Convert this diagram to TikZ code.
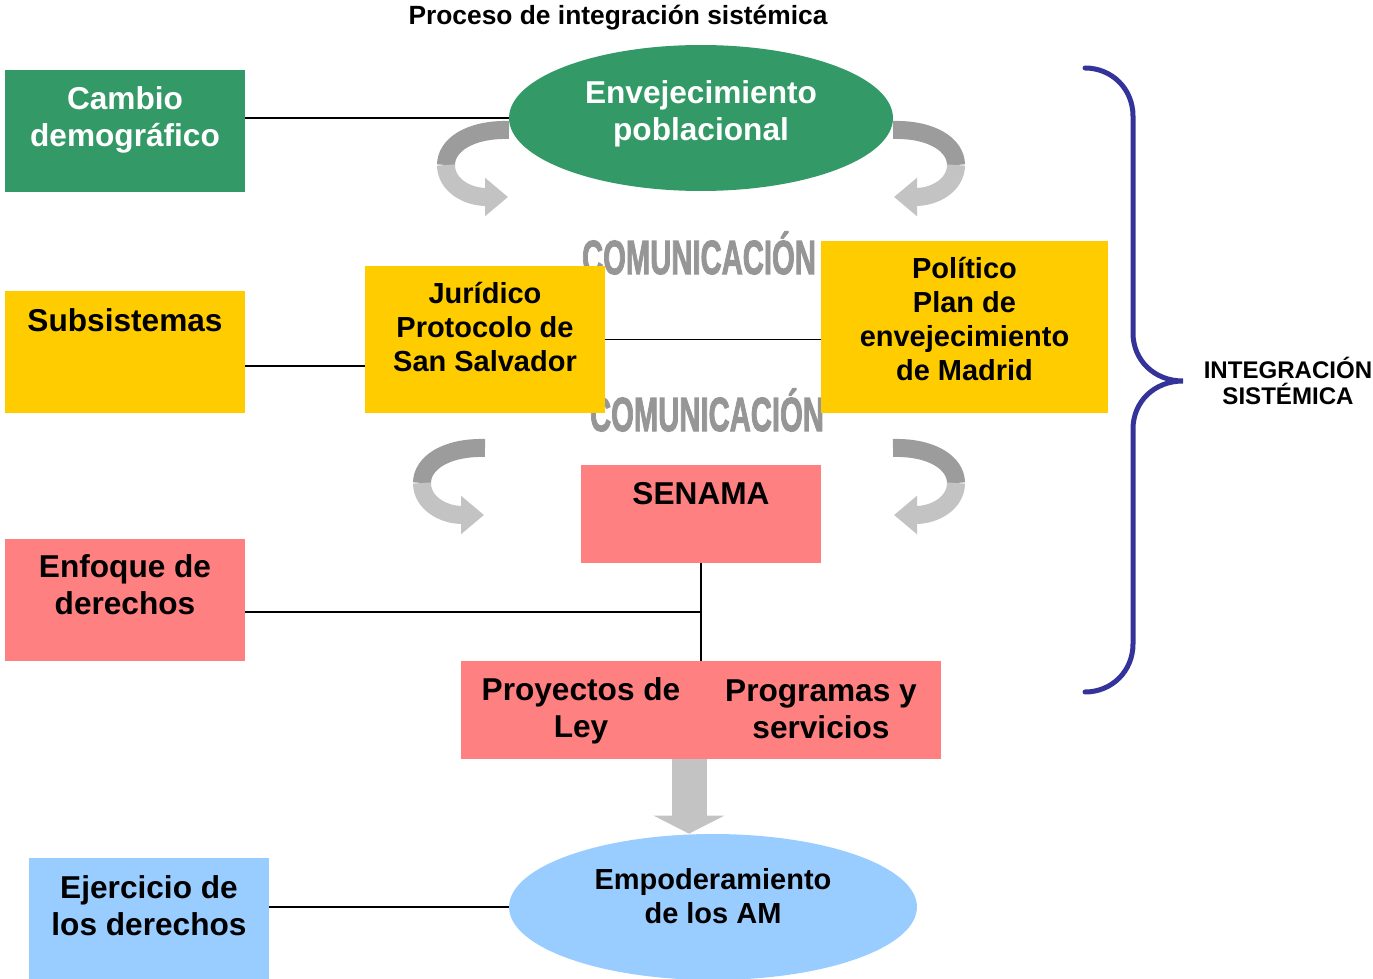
\documentclass[tikz,border=0pt]{standalone}
\usepackage{fontspec}
\setmainfont{Liberation Sans}
\newfontfamily\comfont{Liberation Sans}[BoldFeatures={FakeBold=2.5}]
\usetikzlibrary{arrows.meta,shapes.geometric,positioning}

\definecolor{verde}{HTML}{339966}
\definecolor{amarillo}{HTML}{FFCC00}
\definecolor{rosa}{HTML}{FF8080}
\definecolor{celeste}{HTML}{99CCFF}
\definecolor{azul}{HTML}{333399}
\definecolor{grisosc}{HTML}{9C9C9C}
\definecolor{grisclaro}{HTML}{C3C3C3}
\definecolor{griscom}{HTML}{969696}

\tikzset{
  rotarrow/.pic={
    \draw[line width=0.36cm, grisosc] (0,0) .. controls (-39,-1) and (-63,15) .. (-63,35);
    \draw[line width=0.36cm, grisclaro, -{Triangle[width=0.74cm,length=0.46cm]}] (-63,35) .. controls (-63,55) and (-42,67) .. (-1,67);
  }
}

\begin{document}
\begin{tikzpicture}[x=0.02cm, y=-0.02cm,
    box/.style={rectangle, minimum width=4.8cm, minimum height=2.44cm, inner sep=0pt},
    ovalo/.style={ellipse, minimum height=2.92cm, inner sep=0pt},
    big/.style={font=\bfseries\fontsize{18}{21}\selectfont, align=center},
    mid/.style={font=\bfseries\fontsize{16.5}{19.3}\selectfont, align=center},
    small/.style={font=\bfseries\fontsize{13.7}{15.3}\selectfont, align=center},
    titulo/.style={font=\bfseries\fontsize{15}{17}\selectfont},
    com/.style={text=griscom, inner sep=0pt, font=\comfont\bfseries\fontsize{26}{26}\selectfont},
    conn/.style={line width=0.9pt}]

    \useasboundingbox (0,0) rectangle (1373,979);

    % Title
    \node[titulo] (tit) at (618,18) {Proceso de integración sistémica};

    % Comunicacion labels (behind the yellow boxes)
    \node[com] (com1) at (699,253) {\scalebox{0.64}[1.05]{COMUNICACIÓN}};
    \node[com] (com2) at (707,410) {\scalebox{0.64}[1.05]{COMUNICACIÓN}};

    % Curved arrows
    \pic at (509,130) {rotarrow};
    \pic[xscale=-1] at (893,130) {rotarrow};
    \pic at (485,448) {rotarrow};
    \pic[xscale=-1] at (893,448) {rotarrow};

    % Green row
    \node[box, fill=verde] (cambio) at (125,131) {};
    \node[big, text=white] (cambiotxt) at (125,120) {Cambio\\demográfico};
    \node[ovalo, fill=verde, minimum width=7.68cm] (envej) at (701,118) {};
    \node[big, text=white] (envejtxt) at (701,114) {Envejecimiento\\poblacional};

    % Yellow row
    \node[box, fill=amarillo] (subs) at (125,352) {};
    \node[big] (substxt) at (125,320) {Subsistemas};
    \node[box, fill=amarillo, minimum height=2.94cm] (jur) at (485,339.5) {};
    \node[mid] (jurtxt) at (485,327) {Jurídico\\Protocolo de\\San Salvador};
    \node[box, fill=amarillo, minimum width=5.74cm, minimum height=3.44cm] (pol) at (964.5,327) {};
    \node[mid] (poltxt) at (964.5,319) {Político\\Plan de\\envejecimiento\\de Madrid};

    % Pink row
    \node[box, fill=rosa, minimum height=1.96cm] (senama) at (701,514) {};
    \node[big] (senamatxt) at (701,494) {SENAMA};
    \node[box, fill=rosa] (enf) at (125,600) {};
    \node[big] (enftxt) at (125,585) {Enfoque de\\derechos};
    \node[box, fill=rosa, minimum width=9.6cm, minimum height=1.96cm] (proy) at (701,710) {};
    \node[big] (proytxt) at (581,711) {Proyectos de\\Ley};
    \node[big] (progtxt) at (821,709) {Programas y\\servicios};

    % Blue row
    \node[ovalo, fill=celeste, minimum width=8.16cm] (empod) at (713,907) {};
    \node[mid] (empodtxt) at (713,896) {Empoderamiento\\de los AM};
    \node[box, fill=celeste, minimum height=2.64cm] (ejer) at (149,924) {};
    \node[big] (ejertxt) at (149,906) {Ejercicio de\\los derechos};

    % Connectors
    \draw[conn] (envej.west -| cambio.east) -- (envej.west);
    \draw[conn] ([yshift=-0.28cm]subs.east) -- ([yshift=-0.28cm]subs.east -| jur.west);
    \draw[conn] (jur.east) -- (jur.east -| pol.west);
    \draw[conn] ([yshift=-0.24cm]enf.east) -- ([yshift=-0.24cm]enf.east -| senama.south);
    \draw[conn] (senama.south) -- (proy.north);
    \draw[conn] (empod.west -| ejer.east) -- (empod.west);

    % Big arrow down
    \draw[line width=0.7cm, grisclaro, -{Triangle[width=1.4cm,length=0.36cm]}] ([xshift=-0.24cm]proy.south) -- ([xshift=-0.24cm]proy.south |- empod.north);

    % Brace
    \draw[azul, line width=0.1cm, line cap=round] (1085,68) .. controls (1112,68) and (1133,89) .. (1133,116) -- (1133,333)
        .. controls (1133,360) and (1154,381) .. (1183,381)
        .. controls (1154,381) and (1133,402) .. (1133,429) -- (1133,644)
        .. controls (1133,671) and (1112,692) .. (1085,692);
    \node[small] (integ) at (1288,381) {INTEGRACIÓN\\SISTÉMICA};
\end{tikzpicture}
\end{document}
